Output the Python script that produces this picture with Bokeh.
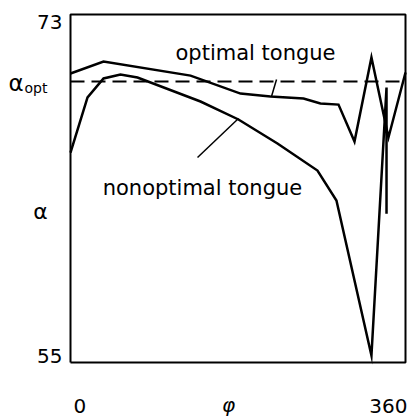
from bokeh.plotting import figure
from bokeh.models import Range1d
from bokeh.core.properties import value
from bokeh.embed import file_html
from bokeh.resources import INLINE

# ---- data ----
phi_opt = [0, 35.5, 129, 182.7, 214.9, 250.4, 268.6, 288, 305.2, 323.4, 341.7, 360]
alpha_opt_curve = [69.95, 70.57, 69.84, 68.91, 68.76, 68.65, 68.40, 68.34, 66.43, 70.78, 66.64, 70.0]

phi_non = [0, 18.3, 35.5, 53.7, 72, 139.7, 180.5, 222.4, 265.4, 285.8, 323.4, 339.6, 339.6]
alpha_non = [65.86, 68.71, 69.69, 69.90, 69.74, 68.50, 67.57, 66.33, 64.93, 63.38, 55.36, 69.22, 62.70]

alpha_opt_level = 69.53

x_ticks = [0, 360]
x_tick_labels = ["0", "360"]
y_ticks = [55, 73]
y_tick_labels = ["55", "73"]

# annotation texts and anchor points
label_texts = ["optimal tongue", "nonoptimal tongue"]
label_x = [198.8, 141.8]
label_y = [71.03, 64.05]
pointer_x0 = [221.4, 136.5]
pointer_y0 = [69.64, 65.60]
pointer_x1 = [216.0, 180.5]
pointer_y1 = [68.76, 67.62]

FONT = value("DejaVu Sans")

# ---- layout: the plot frame fills the canvas; the visible box is drawn at the data limits
W, H = 409, 416
BOX_L, BOX_R, BOX_T, BOX_B = 70, 405, 14, 362
sx = (BOX_R - BOX_L) / (x_ticks[1] - x_ticks[0])
sy = (BOX_B - BOX_T) / (y_ticks[1] - y_ticks[0])
x0 = x_ticks[0] - BOX_L / sx
x1 = x_ticks[1] + (W - BOX_R) / sx
y1 = y_ticks[1] + BOX_T / sy
y0 = y_ticks[1] - (H - BOX_T) / sy

p = figure(width=W, height=H, output_backend="svg", toolbar_location=None,
           x_range=Range1d(x0, x1), y_range=Range1d(y0, y1),
           min_border=0, min_border_left=0, min_border_right=0,
           min_border_top=0, min_border_bottom=0)
p.xaxis.visible = False
p.yaxis.visible = False
p.xgrid.visible = False
p.ygrid.visible = False
p.outline_line_color = None
p.background_fill_color = "white"
p.border_fill_color = "white"

# box
bx = [x_ticks[0], x_ticks[1], x_ticks[1], x_ticks[0], x_ticks[0]]
by = [y_ticks[0], y_ticks[0], y_ticks[1], y_ticks[1], y_ticks[0]]
p.line(bx, by, line_color="black", line_width=2)

# dashed alpha_opt level
p.line([x_ticks[0], x_ticks[1]], [alpha_opt_level, alpha_opt_level],
       line_color="black", line_width=2, line_dash="14 7")

p.line(phi_opt, alpha_opt_curve, line_color="black", line_width=2.5, line_join="miter")
p.line(phi_non, alpha_non, line_color="black", line_width=2.5, line_join="miter")

# pointers
p.segment(pointer_x0, pointer_y0, pointer_x1, pointer_y1, line_color="black", line_width=1.5)

p.text(label_x, label_y, text=label_texts, text_align="center", text_baseline="middle",
       text_font=FONT, text_font_size="21px", text_color="black")

# tick labels
p.text([x_ticks[0]], [y_ticks[0]], text=[x_tick_labels[0]], x_offset=3, y_offset=43,
       text_align="left", text_baseline="middle", text_font=FONT, text_font_size="20px")
p.text([x_ticks[1]], [y_ticks[0]], text=[x_tick_labels[1]], x_offset=2, y_offset=43,
       text_align="right", text_baseline="middle", text_font=FONT, text_font_size="20px")
p.text([x_ticks[0]], [y_ticks[0]], text=[y_tick_labels[0]], x_offset=-8, y_offset=-7,
       text_align="right", text_baseline="middle", text_font=FONT, text_font_size="20px")
p.text([x_ticks[0]], [y_ticks[1]], text=[y_tick_labels[1]], x_offset=-8, y_offset=7,
       text_align="right", text_baseline="middle", text_font=FONT, text_font_size="20px")

# axis labels
p.text([170], [y_ticks[0]], text=["φ"], y_offset=42, text_align="center",
       text_baseline="middle", text_font=FONT, text_font_size="20px", text_font_style="italic")
p.text([x_ticks[0]], [62.8], text=["α"], x_offset=-30, text_align="center",
       text_baseline="middle", text_font=FONT, text_font_size="22px")
# alpha_opt label
p.text([x_ticks[0]], [alpha_opt_level], text=["α"], x_offset=-62, y_offset=1,
       text_align="left", text_baseline="middle", text_font=FONT, text_font_size="23px")
p.text([x_ticks[0]], [alpha_opt_level], text=["opt"], x_offset=-46, y_offset=6,
       text_align="left", text_baseline="middle", text_font=FONT, text_font_size="14px")

open("out.html", "w").write(file_html(p, INLINE))
